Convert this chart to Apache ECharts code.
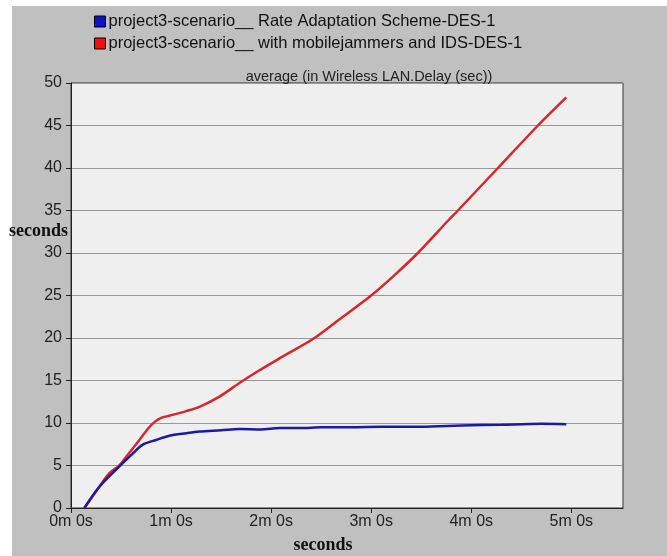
<!DOCTYPE html>
<html>
<head>
<meta charset="utf-8">
<script src="https://cdn.jsdelivr.net/npm/echarts@6/dist/echarts.min.js"></script>
<style>
  html, body { margin: 0; padding: 0; background: #ffffff; }
  #chart { width: 667px; height: 556px; }
</style>
</head>
<body>
<div id="chart"></div>
<script>
// Simulation time (seconds) and average Wireless LAN delay (sec) for each scenario
const rateTimes  = [8, 17, 29, 37, 43, 51, 59, 69, 77, 90, 101, 114, 125, 138, 150, 168, 186, 210, 234, 258, 282, 297];
const rateDelay  = [0, 2.5, 4.9, 6.4, 7.45, 8.0, 8.5, 8.8, 9.0, 9.15, 9.3, 9.25, 9.4, 9.4, 9.5, 9.5, 9.55, 9.55, 9.7, 9.8, 9.9, 9.85];

const jamTimes   = [8, 17, 23, 29, 33, 41, 46, 50, 54, 59, 69, 77, 89, 101, 113, 125, 146, 163, 180, 194, 208, 227, 232, 256, 280, 297];
const jamDelay   = [0, 2.5, 4.1, 5.0, 6.0, 8.0, 9.3, 10.1, 10.6, 10.86, 11.4, 11.9, 13.1, 14.7, 16.2, 17.6, 20.0, 22.5, 25.0, 27.4, 30.0, 34.0, 35.0, 40.0, 45.0, 48.3];

const seriesNames = [
  'project3-scenario__ Rate Adaptation Scheme-DES-1',
  'project3-scenario__ with mobilejammers and IDS-DES-1'
];
const chartTitle = 'average (in Wireless LAN.Delay (sec))';
const axisName = 'seconds';
const yTicks = [0, 5, 10, 15, 20, 25, 30, 35, 40, 45, 50];

const pair = (xs, ys) => xs.map((x, i) => [x, ys[i]]);
const fmtTime = v => Math.floor(v / 60) + 'm ' + (v % 60) + 's';
const SANS = '"Liberation Sans", Arial, sans-serif';
const SERIF_BOLD = 'bold 18px "Liberation Serif", "DejaVu Serif", serif';

const chart = echarts.init(document.getElementById('chart'), null, { renderer: 'canvas' });
chart.setOption({
  animation: false,
  backgroundColor: '#ffffff',
  graphic: [
    { type: 'rect', z: -10, shape: { x: 12, y: 6, width: 655, height: 550 }, style: { fill: '#c0c0c0' } },
    { type: 'text', x: 9, y: 222, style: { text: axisName, font: SERIF_BOLD, fill: '#111' } },
    { type: 'text', x: 323, y: 536, style: { text: axisName, font: SERIF_BOLD, fill: '#111', align: 'center' } }
  ],
  title: {
    text: chartTitle,
    left: 364, top: 64, textAlign: 'center',
    textStyle: { fontFamily: SANS, fontSize: 14.5, fontWeight: 'normal', color: '#222' }
  },
  legend: {
    orient: 'vertical',
    left: 89, top: 8,
    itemGap: 5,
    itemWidth: 11, itemHeight: 11,
    icon: 'rect',
    textStyle: { fontFamily: SANS, fontSize: 16.5, color: '#111', padding: [0, 0, 0, -2] },
    data: seriesNames.map(n => ({ name: n, itemStyle: { borderColor: '#000', borderWidth: 1 } }))
  },
  grid: {
    left: 71, top: 83, right: 44, bottom: 48,
    show: true, backgroundColor: '#efefef', borderColor: '#333', borderWidth: 1
  },
  xAxis: {
    type: 'value',
    min: 0, max: 331, interval: 60,
    axisLine: { show: true, lineStyle: { color: '#222', width: 1 } },
    axisTick: { show: true, length: 5, lineStyle: { color: '#222' } },
    splitLine: { show: false },
    axisLabel: {
      formatter: fmtTime, showMaxLabel: false, margin: 6,
      fontFamily: SANS, fontSize: 16, color: '#222'
    }
  },
  yAxis: {
    type: 'value',
    min: yTicks[0], max: yTicks[yTicks.length - 1], interval: 5,
    axisLine: { show: true, lineStyle: { color: '#222', width: 1 } },
    axisTick: { show: true, length: 5, lineStyle: { color: '#222' } },
    splitLine: { show: true, lineStyle: { color: '#999', width: 1 } },
    axisLabel: { margin: 9, fontFamily: SANS, fontSize: 16, color: '#222' }
  },
  series: [
    {
      name: seriesNames[0], type: 'line', data: pair(rateTimes, rateDelay),
      smooth: 0.3, showSymbol: false, symbol: 'none', z: 3,
      itemStyle: { color: '#1010c8' },
      lineStyle: { color: '#1a1aa8', width: 2.5 }
    },
    {
      name: seriesNames[1], type: 'line', data: pair(jamTimes, jamDelay),
      smooth: 0.3, showSymbol: false, symbol: 'none', z: 2,
      itemStyle: { color: '#ee1111' },
      lineStyle: { color: '#d8262a', width: 2.5 }
    }
  ]
});
</script>
</body>
</html>
